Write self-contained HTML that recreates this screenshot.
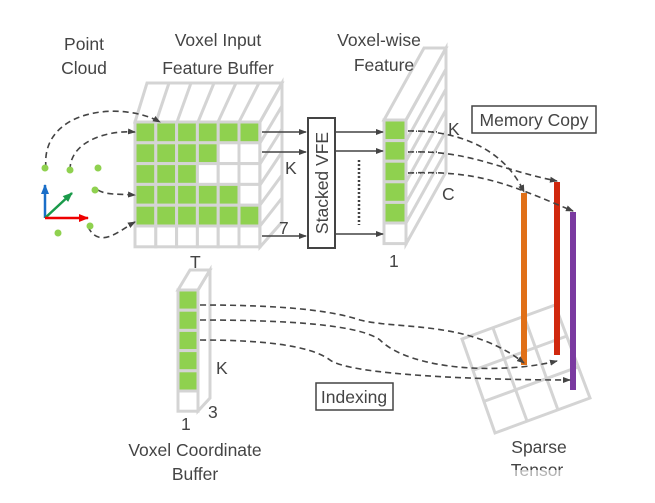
<!DOCTYPE html>
<html><head><style>
body{margin:0;background:#fff;width:655px;height:498px;overflow:hidden}
svg text{font-family:"Liberation Sans",sans-serif;fill:#444;font-size:17.5px}
</style></head><body>
<svg width="655" height="498" viewBox="0 0 655 498">
<defs>
<marker id="a" markerWidth="8" markerHeight="8" refX="7" refY="4" orient="auto" markerUnits="userSpaceOnUse"><path d="M0,1 L8,4 L0,7z" fill="#444"/></marker>
<marker id="r" markerWidth="10" markerHeight="10" refX="9" refY="5" orient="auto" markerUnits="userSpaceOnUse"><path d="M0,1 L10,5 L0,9z" fill="#e00"/></marker>
<marker id="b" markerWidth="10" markerHeight="10" refX="9" refY="5" orient="auto" markerUnits="userSpaceOnUse"><path d="M0,1 L10,5 L0,9z" fill="#1a6ec8"/></marker>
<marker id="g" markerWidth="10" markerHeight="10" refX="9" refY="5" orient="auto" markerUnits="userSpaceOnUse"><path d="M0,1 L10,5 L0,9z" fill="#1a9a4a"/></marker>
</defs>
<g stroke="#d4d4d4" stroke-width="3" fill="none">
<polygon points="135,122 147,83 282,83 260,122"/>
<polygon points="260,122 282,83 282,222 260,247"/>
<line x1="156" y1="122" x2="169" y2="83"/><line x1="177" y1="122" x2="191" y2="83"/><line x1="198" y1="122" x2="214" y2="83"/><line x1="218" y1="122" x2="236" y2="83"/><line x1="239" y1="122" x2="259" y2="83"/>
<line x1="260" y1="143" x2="282" y2="106"/><line x1="260" y1="164" x2="282" y2="129"/><line x1="260" y1="185" x2="282" y2="152"/><line x1="260" y1="205" x2="282" y2="175"/><line x1="260" y1="226" x2="282" y2="198"/>
<polygon points="384,120 424,48 446,48 406,120"/>
<polygon points="406,120 446,48 446,172 406,244"/>
<line x1="406" y1="141" x2="446" y2="69"/><line x1="406" y1="161" x2="446" y2="89"/><line x1="406" y1="182" x2="446" y2="110"/><line x1="406" y1="203" x2="446" y2="131"/><line x1="406" y1="223" x2="446" y2="151"/>
<polygon points="178,290 190,270 210,270 198,290"/>
<polygon points="198,290 210,270 210,398 198,411"/>
<polygon points="462,339 555,305 590,398 495,433"/>
<line x1="493" y1="328" x2="527" y2="421"/><line x1="524" y1="316" x2="558" y2="410"/>
<line x1="474" y1="370" x2="567" y2="336"/><line x1="485" y1="401" x2="578" y2="367"/>
</g>
<g id="grid"></g>
<g stroke="#444" stroke-width="1.5" fill="none" marker-end="url(#a)">
<line x1="262" y1="132" x2="306" y2="132"/><line x1="262" y1="152" x2="306" y2="152"/><line x1="262" y1="236" x2="306" y2="236"/>
<line x1="336" y1="132" x2="383" y2="132"/><line x1="336" y1="151" x2="383" y2="151"/><line x1="336" y1="234" x2="383" y2="234"/>
</g>
<line x1="359" y1="160" x2="359" y2="225" stroke="#444" stroke-width="2.5" stroke-dasharray="2,2"/>
<rect x="308" y="118" width="27" height="130" fill="#fff" stroke="#444" stroke-width="2"/>
<text transform="translate(328,183) rotate(-90)" text-anchor="middle" font-size="18">Stacked VFE</text>
<rect x="521" y="193" width="6" height="172" fill="#e07018"/>
<rect x="554" y="182" width="6" height="173" fill="#d0280e"/>
<rect x="570" y="212" width="6" height="178" fill="#7a3aa0"/>
<g stroke="#444" stroke-width="1.6" fill="none" stroke-dasharray="6,4" marker-end="url(#a)">
<path d="M46,168 C40,110 120,100 160,122"/>
<path d="M70,170 C70,140 110,130 135,132"/>
<path d="M98,190 C105,195 120,194 135,195"/>
<path d="M88,227 C100,250 120,230 135,222"/>
<path d="M408,131 C460,130 505,150 524,192"/>
<path d="M408,152 C470,150 500,170 557,181"/>
<path d="M408,173 C480,170 510,185 573,211"/>
<path d="M200,305 C280,305 330,310 360,320 C400,330 470,320 524,363"/>
<path d="M200,320 C290,320 360,325 380,340 C410,370 500,375 557,361"/>
<path d="M200,340 C260,340 310,345 330,360 C350,375 480,380 570,380"/>
</g>
<g stroke="#444" stroke-width="1.5" stroke-dasharray="1,3"><line x1="408" y1="131" x2="440" y2="132"/><line x1="408" y1="152" x2="440" y2="152"/><line x1="408" y1="173" x2="440" y2="173"/></g>
<g fill="#8fd14f"><circle cx="45" cy="168" r="3.5"/><circle cx="70" cy="170" r="3.5"/><circle cx="98" cy="168" r="3.5"/><circle cx="95" cy="190" r="3.5"/><circle cx="58" cy="233" r="3.5"/><circle cx="90" cy="226" r="3.5"/></g>
<line x1="45" y1="218" x2="45" y2="185" stroke="#1a6ec8" stroke-width="2.5" marker-end="url(#b)"/>
<line x1="45" y1="218" x2="72" y2="193" stroke="#1a9a4a" stroke-width="2.5" marker-end="url(#g)"/>
<line x1="45" y1="218" x2="88" y2="218" stroke="#e00" stroke-width="2.5" marker-end="url(#r)"/>
<text x="84" y="50" text-anchor="middle">Point</text><text x="84" y="74" text-anchor="middle">Cloud</text>
<text x="218" y="46" text-anchor="middle">Voxel Input</text><text x="218" y="74" text-anchor="middle">Feature  Buffer</text>
<text x="379" y="46" text-anchor="middle">Voxel-wise</text><text x="384" y="71" text-anchor="middle">Feature</text>
<rect x="472" y="106" width="124" height="27" fill="#fff" stroke="#444" stroke-width="1.5"/>
<text x="534" y="126" text-anchor="middle">Memory Copy</text>
<text x="285" y="174">K</text><text x="279" y="234">7</text><text x="190" y="268">T</text>
<text x="448" y="135">K</text><text x="442" y="200">C</text><text x="389" y="267">1</text>
<text x="216" y="374">K</text><text x="208" y="418">3</text><text x="181" y="430">1</text>
<text x="195" y="456" text-anchor="middle">Voxel Coordinate</text><text x="195" y="480" text-anchor="middle">Buffer</text>
<rect x="316" y="383" width="77" height="27" fill="#fff" stroke="#444" stroke-width="1.5"/>
<text x="354" y="403" text-anchor="middle">Indexing</text>
<text x="539" y="453" text-anchor="middle">Sparse</text>
<text x="537" y="476" text-anchor="middle" fill="#999" font-size="12">Tensor</text>
<rect x="500" y="470" width="155" height="28" fill="#fff" opacity="0.6"/>
</svg>
<script>
var g=document.getElementById('grid'),s='',n=[6,4,3,5,6,0],w=20.8;
for(var r=0;r<6;r++)for(var c=0;c<6;c++){s+='<rect x="'+(135+c*w)+'" y="'+(122+r*w)+'" width="'+w+'" height="'+w+'" fill="'+(c<n[r]?'#8fd14f':'#fff')+'" stroke="#d4d4d4" stroke-width="3"/>';}
var h=20.6;for(var r=0;r<6;r++)s+='<rect x="384" y="'+(120+r*h)+'" width="22" height="'+h+'" fill="'+(r<5?'#8fd14f':'#fff')+'" stroke="#d4d4d4" stroke-width="3"/>';
var h2=20.2;for(var r=0;r<6;r++)s+='<rect x="178" y="'+(290+r*h2)+'" width="20" height="'+h2+'" fill="'+(r<5?'#8fd14f':'#fff')+'" stroke="#d4d4d4" stroke-width="3"/>';
g.innerHTML=s;
</script>
</body></html>
